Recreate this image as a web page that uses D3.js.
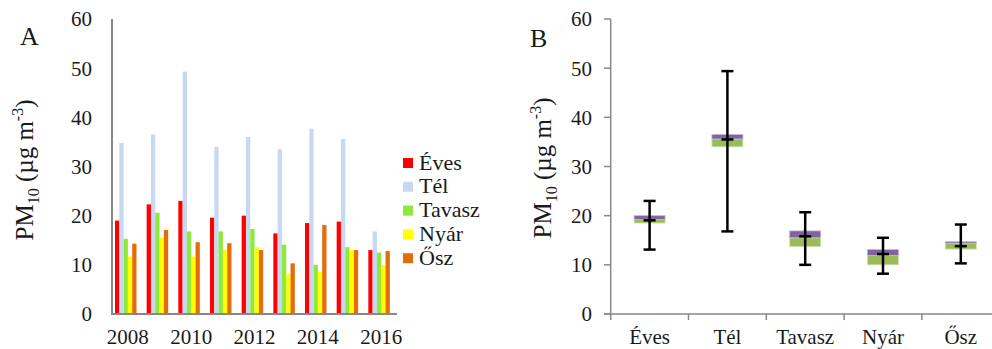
<!DOCTYPE html>
<html>
<head>
<meta charset="utf-8">
<script src="https://cdn.jsdelivr.net/npm/d3@7"></script>
<style>
  body { margin: 0; background: #fff; }
  svg text { font-family: "Liberation Serif", "Times New Roman", serif; fill: #1a1a1a; }
</style>
</head>
<body>
<div id="chart"></div>
<script>
// panel A: yearly means per season
var years = [2008, 2009, 2010, 2011, 2012, 2013, 2014, 2015, 2016]
var yearLabels = ['2008', '2010', '2012', '2014', '2016']
var seasons = ['Éves', 'Tél', 'Tavasz', 'Nyár', 'Ősz']
var eves   = [19.0, 22.3, 23.0, 19.6, 20.0, 16.4, 18.5, 18.8, 13.0]
var tel    = [34.8, 36.5, 49.3, 34.0, 36.0, 33.5, 37.7, 35.6, 16.8]
var tavasz = [15.3, 20.6, 16.8, 16.8, 17.3, 14.1, 10.0, 13.6, 12.5]
var nyar   = [11.7, 15.5, 11.7, 13.0, 13.6, 8.1, 8.6, 13.0, 10.0]
var osz    = [14.3, 17.1, 14.6, 14.4, 13.0, 10.3, 18.1, 13.0, 12.8]

// panel B: box plot per season
var boxQ1  = [18.5, 34.0, 13.7, 10.0, 13.2]
var boxMed = [19.2, 35.6, 15.5, 11.9, 14.4]
var boxQ3  = [20.0, 36.5, 16.9, 13.1, 14.7]
var boxMid = [19.05, 35.5, 15.8, 12.2, 13.8]
var boxMin = [13.1, 16.8, 10.0, 8.2, 10.3]
var boxMax = [23.0, 49.4, 20.7, 15.5, 18.2]

var yTicks = [0, 10, 20, 30, 40, 50, 60]
var seasonColours = ['#ff0000', '#c6d9f1', '#8fe83c', '#ffff00', '#e46c0a']

var W = 992, H = 349
var FONT = 'Liberation Serif, Times New Roman, serif'
var svg = d3.select('#chart').append('svg')
  .attr('width', W).attr('height', H)
  .attr('font-family', FONT)

var axisGrey = '#888888'

// ---------- panel A ----------
var yA = d3.scaleLinear().domain([0, 60]).range([314, 19])
var xA = d3.scaleBand().domain(years).range([112, 397]).paddingInner(0).paddingOuter(0)
var xInner = d3.scaleBand().domain(seasons).range([0, 21.5])

var series = [eves, tel, tavasz, nyar, osz]

var gA = svg.append('g')

series.forEach(function(vals, si) {
  gA.append('g').selectAll('rect')
    .data(years)
    .enter().append('rect')
      .attr('x', function(d){ return xA(d) + 3 + xInner(seasons[si]) })
      .attr('width', xInner.bandwidth())
      .attr('y', function(d, i){ return yA(vals[i]) })
      .attr('height', function(d, i){ return yA(0) - yA(vals[i]) })
      .attr('fill', seasonColours[si])
})

// axes
gA.append('line')
  .attr('x1', 112).attr('x2', 112)
  .attr('y1', yA(60)).attr('y2', yA(0))
  .attr('stroke', axisGrey).attr('stroke-width', 2)
gA.append('line')
  .attr('x1', 111).attr('x2', 397)
  .attr('y1', yA(0)).attr('y2', yA(0))
  .attr('stroke', axisGrey).attr('stroke-width', 2)

gA.append('g').selectAll('text')
  .data(yTicks)
  .enter().append('text')
    .attr('x', 92)
    .attr('y', function(d){ return yA(d) })
    .attr('dy', '0.35em')
    .attr('text-anchor', 'end')
    .style('font-size', '21px')
    .text(function(d){ return d })

gA.append('g').selectAll('text')
  .data(yearLabels)
  .enter().append('text')
    .attr('x', function(d){ return xA(+d) + xA.bandwidth() / 2 })
    .attr('y', 344)
    .attr('text-anchor', 'middle')
    .style('font-size', '21px')
    .text(function(d){ return d })

// legend
var legend = gA.append('g')
seasons.forEach(function(s, i) {
  var ly = 158 + i * 23.8
  legend.append('rect')
    .attr('x', 403).attr('y', ly)
    .attr('width', 10).attr('height', 10)
    .attr('fill', seasonColours[i])
  legend.append('text')
    .attr('x', 419).attr('y', ly + 11.5)
    .style('font-size', '22px')
    .text(s)
})

function yTitle(g, x, y) {
  var t = g.append('text')
    .attr('transform', 'translate(' + x + ',' + y + ') rotate(-90)')
    .attr('text-anchor', 'middle')
    .style('font-size', '25px')
  t.append('tspan').text('PM')
  t.append('tspan').attr('dy', 6).style('font-size', '16px').text('10')
  t.append('tspan').attr('dy', -6).text(' (µg m')
  t.append('tspan').attr('dy', -10).style('font-size', '16px').text('-3')
  t.append('tspan').attr('dy', 10).text(')')
}

yTitle(gA, 33, 170)

gA.append('text')
  .attr('x', 20).attr('y', 45)
  .style('font-size', '26px')
  .text('A')

// ---------- panel B ----------
var yB = d3.scaleLinear().domain([0, 60]).range([314, 19])
var xB = d3.scaleBand().domain(seasons).range([610.7, 999.7])

var gB = svg.append('g')

// y axis line + ticks
gB.append('line')
  .attr('x1', 610.7).attr('x2', 610.7)
  .attr('y1', yB(60)).attr('y2', yB(0))
  .attr('stroke', axisGrey).attr('stroke-width', 1.5)
gB.append('g').selectAll('line')
  .data(yTicks)
  .enter().append('line')
    .attr('x1', 604).attr('x2', 610.7)
    .attr('y1', function(d){ return yB(d) })
    .attr('y2', function(d){ return yB(d) })
    .attr('stroke', axisGrey).attr('stroke-width', 1.5)
gB.append('g').selectAll('text')
  .data(yTicks)
  .enter().append('text')
    .attr('x', 592)
    .attr('y', function(d){ return yB(d) })
    .attr('dy', '0.35em')
    .attr('text-anchor', 'end')
    .style('font-size', '21px')
    .text(function(d){ return d })

// x axis line + ticks
gB.append('line')
  .attr('x1', 604).attr('x2', W)
  .attr('y1', yB(0)).attr('y2', yB(0))
  .attr('stroke', axisGrey).attr('stroke-width', 1.5)
gB.append('g').selectAll('line')
  .data(seasons)
  .enter().append('line')
    .attr('x1', function(d){ return xB(d) })
    .attr('x2', function(d){ return xB(d) })
    .attr('y1', yB(0)).attr('y2', yB(0) + 6)
    .attr('stroke', axisGrey).attr('stroke-width', 1.5)
gB.append('g').selectAll('text')
  .data(seasons)
  .enter().append('text')
    .attr('x', function(d){ return xB(d) + xB.bandwidth() / 2 })
    .attr('y', 344)
    .attr('text-anchor', 'middle')
    .style('font-size', '21px')
    .text(function(d){ return d })

var boxW = 31, capW = 12

var boxes = gB.append('g').selectAll('g')
  .data(seasons)
  .enter().append('g')
    .attr('transform', function(d){ return 'translate(' + (xB(d) + xB.bandwidth() / 2) + ',0)' })

// lower half (q1 to median) green, upper half (median to q3) purple
boxes.append('rect')
  .attr('x', -boxW / 2).attr('width', boxW)
  .attr('y', function(d, i){ return yB(boxMed[i]) })
  .attr('height', function(d, i){ return yB(boxQ1[i]) - yB(boxMed[i]) })
  .attr('fill', '#9bbb59')
  .attr('stroke', '#d3e2b5').attr('stroke-width', 0.8)
boxes.append('rect')
  .attr('x', -boxW / 2).attr('width', boxW)
  .attr('y', function(d, i){ return yB(boxQ3[i]) })
  .attr('height', function(d, i){ return yB(boxMed[i]) - yB(boxQ3[i]) })
  .attr('fill', '#8064a2')
  .attr('stroke', '#c4b6d6').attr('stroke-width', 0.8)

// whiskers
boxes.append('line')
  .attr('x1', 0).attr('x2', 0)
  .attr('y1', function(d, i){ return yB(boxMax[i]) })
  .attr('y2', function(d, i){ return yB(boxMin[i]) })
  .attr('stroke', '#000').attr('stroke-width', 2.5)
;[boxMax, boxMin, boxMid].forEach(function(arr) {
  boxes.append('line')
    .attr('x1', -capW / 2).attr('x2', capW / 2)
    .attr('y1', function(d, i){ return yB(arr[i]) })
    .attr('y2', function(d, i){ return yB(arr[i]) })
    .attr('stroke', '#000').attr('stroke-width', 2.5)
})

yTitle(gB, 551, 168)

gB.append('text')
  .attr('x', 530).attr('y', 47)
  .style('font-size', '26px')
  .text('B')
</script>
</body>
</html>
